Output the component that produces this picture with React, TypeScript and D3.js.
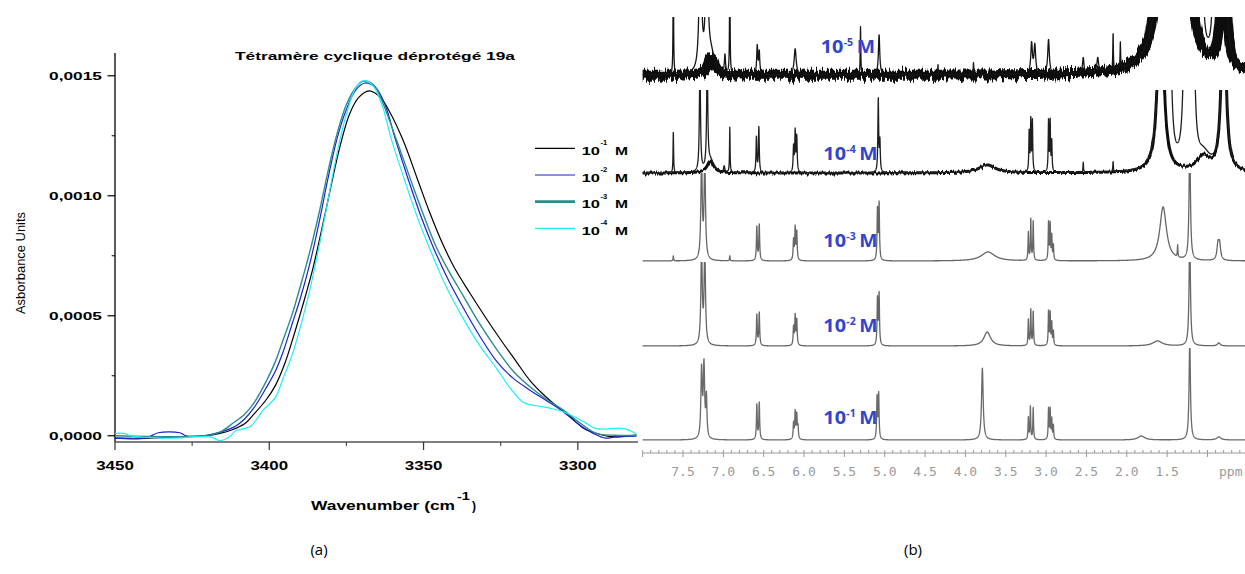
import React from "react";
import * as d3 from "d3";

// ---------------- Panel (a): IR absorbance data ----------------
const irTitle = "Tétramère cyclique déprotégé 19a";
const irXTicks = [3450, 3400, 3350, 3300];
const irXMinor = [3425, 3375, 3325];
const irYTicks = [0, 0.0005, 0.001, 0.0015];
const irYMinor = [0.00025, 0.00075, 0.00125];
const irExponents = ["-1", "-2", "-3", "-4"];

// [wavenumber cm-1, absorbance]
const ir1e1: [number, number][] = [
  [3450, -0.00001], [3440, -0.00001], [3430, -0.000005], [3421, 0], [3416, 0.00001], [3412, 0.000025],
  [3408, 0.00005], [3405, 0.00009], [3401, 0.00015], [3398, 0.00021], [3395, 0.0003], [3392, 0.00042],
  [3389, 0.00055], [3386, 0.00069], [3383, 0.00086], [3380, 0.00104], [3377, 0.00121], [3374, 0.00134],
  [3371, 0.00141], [3367.6, 0.001437], [3364, 0.00141], [3361, 0.00135], [3356.6, 0.00123], [3352, 0.00107],
  [3348, 0.00093], [3344, 0.000805], [3340, 0.0007], [3335, 0.000595], [3330, 0.000495], [3325, 0.0004],
  [3320, 0.00031], [3315.5, 0.00023], [3311, 0.00017], [3307, 0.000125], [3302.5, 0.00008], [3298, 0.00003],
  [3294, 0.00001], [3289, -0.000004], [3281, 0.000003],
];
const ir1e2: [number, number][] = [
  [3450, -0.00001], [3440, -0.00001], [3436, 0.0000125], [3429, 0.0000125], [3427, 0], [3421, 0],
  [3416, 0.000015], [3411, 0.00004], [3408, 0.00007], [3405, 0.000116], [3401, 0.0002], [3398, 0.00027],
  [3395.5, 0.00035], [3392.5, 0.00047], [3390, 0.00057], [3387, 0.00071], [3384, 0.00088], [3381, 0.00107],
  [3378, 0.00124], [3375, 0.00136], [3372, 0.00144], [3369, 0.00147], [3365.5, 0.00145], [3362.5, 0.00138],
  [3359, 0.00123], [3355, 0.00107], [3351, 0.00092], [3347, 0.00079], [3342, 0.00065], [3337, 0.00053],
  [3332, 0.00042], [3326.3, 0.00031], [3321, 0.00024], [3315.5, 0.00019], [3310, 0.000145], [3304.7, 0.0001],
  [3300, 0.00005], [3295, 0.00001], [3291, -0.00001], [3288, -0.000005], [3281, -0.000002],
];
const ir1e3: [number, number][] = [
  [3450, 0], [3421, 0], [3416, 0.000015], [3411.7, 0.000053], [3408, 0.00009], [3405, 0.000136],
  [3400.8, 0.000232], [3398, 0.00031], [3395.5, 0.0004], [3392.5, 0.00051], [3390, 0.00062], [3387, 0.00076],
  [3384, 0.00092], [3381, 0.0011], [3378, 0.00126], [3375, 0.00138], [3372, 0.00145], [3369.5, 0.001478],
  [3366, 0.00146], [3363, 0.00138], [3358.7, 0.00123], [3354, 0.00106], [3350, 0.00092], [3346, 0.00079],
  [3342, 0.00069], [3337, 0.00058], [3332, 0.00047], [3326.3, 0.00036], [3321, 0.00027], [3315.5, 0.000204],
  [3310, 0.00015], [3304.7, 0.000107], [3300, 0.00006], [3294, 0.00001], [3288, 0.000002], [3281, 0.000002],
];
const ir1e4: [number, number][] = [
  [3450, 0.00001], [3447, 0.00001], [3445, 0], [3430, -0.00001], [3425, -0.000005], [3419, -0.000005],
  [3416, -0.00002], [3413, -0.000005], [3411, 0.00002], [3408, 0.00003], [3406, 0.00004], [3404, 0.00007],
  [3402, 0.000107], [3398, 0.00016], [3395.5, 0.00024], [3392.5, 0.00034], [3390, 0.00045], [3387, 0.0006],
  [3384, 0.00078], [3381, 0.00098], [3378, 0.00118], [3375, 0.00134], [3372, 0.00145], [3369.5, 0.00148],
  [3366.5, 0.00146], [3363.5, 0.00138], [3360.3, 0.00123], [3356, 0.00106], [3352, 0.00091], [3348, 0.00078],
  [3343, 0.00063], [3337, 0.000485], [3332, 0.00038], [3326.3, 0.00028], [3322, 0.0002], [3317.7, 0.00014],
  [3313.4, 0.000125], [3309, 0.000115], [3304.7, 0.0001], [3298, 0.000058], [3294, 0.00003], [3285, 0.00003],
  [3281, 0.000008],
];
const irSeries = [ir1e1, ir1e2, ir1e3, ir1e4];

// ---------------- Panel (b): 1H NMR data ----------------
const nmrTicks = [7.5, 7.0, 6.5, 6.0, 5.5, 5.0, 4.5, 4.0, 3.5, 3.0, 2.5, 2.0, 1.5];
const nmrExponents = ["-5", "-4", "-3", "-2", "-1"];
// [ppm, intensity, half-width ppm]
const nmr1e5: [number, number, number][] = [
  [7.62, 110, 0.004], [7.285, 160, 0.015], [7.205, 160, 0.015], [7.15, 18, 0.05], [6.98, 18, 0.008],
  [6.92, 110, 0.004], [6.58, 28, 0.008], [6.555, 22, 0.008], [6.11, 26, 0.015], [5.3, 48, 0.004],
  [5.07, 40, 0.01], [4.34, 10, 0.004], [3.9, 12, 0.004], [3.18, 30, 0.012], [3.14, 28, 0.012],
  [2.97, 34, 0.012], [2.54, 15, 0.01], [2.36, 14, 0.012], [2.17, 36, 0.004], [2.08, 26, 0.004],
  [1.5, 300, 0.08], [1.3, 600, 0.04], [1.08, 400, 0.012], [0.91, 400, 0.012], [0.8, 150, 0.035],
];
const nmr1e4: [number, number, number][] = [
  [7.62, 41, 0.004], [7.29, 110, 0.008], [7.2, 110, 0.008], [7.16, 12, 0.05], [6.99, 6, 0.008],
  [6.92, 45, 0.004], [6.59, 35, 0.006], [6.56, 45, 0.006], [6.13, 25, 0.006], [6.11, 40, 0.006],
  [6.09, 35, 0.006], [5.08, 73, 0.006], [5.06, 30, 0.006], [3.73, 8, 0.12], [3.21, 40, 0.005],
  [3.19, 51, 0.005], [3.17, 50, 0.005], [2.97, 51, 0.005], [2.95, 50, 0.005], [2.93, 30, 0.005],
  [2.54, 10, 0.004], [2.17, 10, 0.004], [1.58, 200, 0.04], [1.47, 200, 0.02], [1.27, 300, 0.02],
  [1.18, 200, 0.02], [1.05, 15, 0.1], [0.8, 200, 0.03],
];
const nmr1e3: [number, number, number][] = [
  [7.62, 5, 0.004], [7.27, 100, 0.01], [7.23, 100, 0.01], [6.92, 5, 0.004], [6.585, 34, 0.006],
  [6.555, 36, 0.006], [6.13, 20, 0.006], [6.11, 32, 0.006], [6.09, 28, 0.006], [5.09, 50, 0.006],
  [5.07, 56, 0.006], [3.72, 9, 0.1], [3.22, 28, 0.005], [3.19, 41, 0.005], [3.16, 39, 0.005],
  [2.97, 38, 0.005], [2.95, 36, 0.005], [2.93, 24, 0.005], [2.91, 15, 0.005], [1.55, 54, 0.05],
  [1.37, 12, 0.004], [1.22, 120, 0.01], [0.87, 15, 0.015], [0.85, 15, 0.015],
];
const nmr1e2: [number, number, number][] = [
  [7.27, 95, 0.01], [7.23, 95, 0.01], [6.585, 31, 0.006], [6.555, 33, 0.006], [6.13, 18, 0.006],
  [6.11, 29, 0.006], [6.09, 25, 0.006], [5.09, 46, 0.006], [5.07, 51, 0.006], [3.73, 14, 0.05],
  [3.22, 26, 0.005], [3.19, 36, 0.005], [3.16, 34, 0.005], [2.97, 34, 0.005], [2.95, 32, 0.005],
  [2.93, 22, 0.005], [2.91, 14, 0.005], [1.62, 5, 0.07], [1.22, 110, 0.01], [0.86, 3, 0.02],
];
const nmr1e1: [number, number, number][] = [
  [7.27, 68, 0.01], [7.24, 72, 0.01], [7.21, 40, 0.008], [6.585, 35, 0.006], [6.555, 37, 0.006],
  [6.13, 16, 0.006], [6.11, 27, 0.006], [6.09, 24, 0.006], [6.075, 12, 0.006], [5.095, 42, 0.006],
  [5.075, 45, 0.006], [3.79, 72, 0.012], [3.22, 22, 0.005], [3.195, 33, 0.005], [3.16, 32, 0.005],
  [2.97, 31, 0.005], [2.95, 30, 0.005], [2.93, 20, 0.005], [2.91, 14, 0.005], [1.82, 4, 0.05],
  [1.22, 100, 0.01], [0.86, 3, 0.03],
];
const nmrSpectra = [nmr1e5, nmr1e4, nmr1e3, nmr1e2, nmr1e1];

// ---------------- Layout / style ----------------
const W = 1245;
const H = 574;
const boldFont = "'Liberation Sans', Arial, sans-serif";
const irColors = ["#000000", "#1f1fd0", "#2b8c8c", "#1ff0f5"];
const irStroke = [1.2, 1.2, 1.4, 1.2];
const irLegendStroke = [1.2, 1.2, 2.8, 1.3];
const nmrBase = [75, 173, 261, 346, 440];
const nmrClipTop = [17, 90, 173, 262, 348];
const nmrStroke = ["#151515", "#1e1e1e", "#666", "#666", "#6a6a6a"];
const nmrBand = [10, 3, 0, 0, 0];
const nmrNoise = [14, 5, 0, 0, 0];
const nmrLabelX = [820.7, 823.3, 823.3, 823.3, 823.3];
const nmrLabelY = [53.3, 160, 246.7, 332, 424];

export default function App() {
  const x = d3.scaleLinear().domain([3450, 3280.5]).range([115, 638]);
  const y = d3.scaleLinear().domain([-0.000026, 0.001595]).range([442, 53]);
  const line = d3
    .line<[number, number]>()
    .x((d) => x(d[0]))
    .y((d) => y(d[1]))
    .curve(d3.curveCatmullRom.alpha(0.5));
  const fmt = (v: number) => d3.format(".4f")(v).replace(".", ",");

  const px = d3.scaleLinear().domain([7.5, 1.0]).range([683, 1207.5]);
  const grid = d3.range(8.0, 0.5, -0.0015);
  const lor = (p: number, pk: [number, number, number]) => pk[1] / (1 + ((p - pk[0]) / pk[2]) ** 2);
  const nmrPaths = nmrSpectra.map((peaks, i) => {
    const yy = d3.scaleLinear().domain([0, 100]).range([nmrBase[i], nmrBase[i] - 100]);
    const ln = d3
      .line<[number, number]>()
      .x((d) => px(d[0]))
      .y((d) => yy(d[1]));
    const full = grid.map((p) => [p, d3.sum(peaks, (pk) => lor(p, pk))] as [number, number]);
    const broad = grid.map(
      (p) => [p, d3.sum(peaks.filter((pk) => pk[2] >= 0.03), (pk) => lor(p, pk))] as [number, number]
    );
    return { full: ln(full) || "", broad: ln(broad) || "" };
  });
  const nmrAllTicks = d3.range(80, 4, -1).map((v) => v / 10);

  return (
    <svg width={W} height={H} style={{ position: "absolute", left: 0, top: 0, background: "#fff" }}>
      <rect x={0} y={0} width={W} height={H} fill="#fff" />
      <defs>
        {nmrBase.map((b, i) => (
          <clipPath id={`nmrclip${i}`} key={i}>
            <rect x={640} y={nmrClipTop[i]} width={W - 640} height={b + 25 - nmrClipTop[i]} />
          </clipPath>
        ))}
        {nmrNoise.map((s, i) =>
          s > 0 ? (
            <filter id={`noise${i}`} key={i} x="-2%" y="-100%" width="104%" height="300%">
              <feTurbulence type="fractalNoise" baseFrequency="0.55 0.03" numOctaves={2} seed={i + 4} result="t" />
              <feColorMatrix in="t" type="matrix" values="0 0 0 0 0.5  0 1 0 0 0  0 0 0 0 0  0 0 0 0 1" result="m" />
              <feDisplacementMap in="SourceGraphic" in2="m" scale={s} xChannelSelector="R" yChannelSelector="G" />
            </filter>
          ) : null
        )}
      </defs>

      {/* ---------- Panel (a) ---------- */}
      <text x={235} y={60} fontFamily={boldFont} fontWeight="bold" fontSize={11} textLength={280} lengthAdjust="spacingAndGlyphs">
        {irTitle}
      </text>
      <line x1={115} x2={115} y1={53} y2={442} stroke="#000" strokeWidth={1.3} />
      {irYTicks.map((t) => (
        <g key={t}>
          <line x1={107.5} x2={115} y1={y(t)} y2={y(t)} stroke="#000" strokeWidth={1.2} />
          <text x={102} y={y(t) + 4.3} textAnchor="end" fontFamily={boldFont} fontWeight="bold" fontSize={11.5} textLength={53} lengthAdjust="spacingAndGlyphs">
            {fmt(t)}
          </text>
        </g>
      ))}
      {irYMinor.map((t) => (
        <line key={t} x1={111.7} x2={115} y1={y(t)} y2={y(t)} stroke="#000" strokeWidth={1} />
      ))}
      <line x1={115} x2={638} y1={442} y2={442} stroke="#555" strokeWidth={1.3} />
      {irXTicks.map((t) => (
        <g key={t}>
          <line x1={x(t)} x2={x(t)} y1={442} y2={450} stroke="#333" strokeWidth={1.2} />
          <text x={x(t)} y={470} textAnchor="middle" fontFamily={boldFont} fontWeight="bold" fontSize={12.5} textLength={37.6} lengthAdjust="spacingAndGlyphs">
            {t}
          </text>
        </g>
      ))}
      {irXMinor.map((t) => (
        <line key={t} x1={x(t)} x2={x(t)} y1={442} y2={446} stroke="#333" strokeWidth={1} />
      ))}
      <text transform="translate(25,263) rotate(-90)" textAnchor="middle" fontFamily="'Liberation Sans Narrow', 'Liberation Sans', Arial, sans-serif" fontSize={13} textLength={102} lengthAdjust="spacingAndGlyphs">
        Asborbance Units
      </text>
      <text x={311} y={510} fontFamily={boldFont} fontWeight="bold" fontSize={12} textLength={144} lengthAdjust="spacingAndGlyphs">
        Wavenumber (cm
      </text>
      <text x={457} y={500} fontFamily={boldFont} fontWeight="bold" fontSize={10} textLength={13} lengthAdjust="spacingAndGlyphs">
        -1
      </text>
      <text x={472} y={510} fontFamily={boldFont} fontWeight="bold" fontSize={12}>
        )
      </text>
      {irSeries.map((s, i) => (
        <path key={i} d={line(s) || ""} fill="none" stroke={irColors[i]} strokeWidth={irStroke[i]} strokeLinejoin="round" />
      ))}
      {irExponents.map((e, i) => {
        const ly = 148.3 + i * 26.7;
        return (
          <g key={e}>
            <line x1={535} x2={575} y1={ly} y2={ly} stroke={irColors[i]} strokeWidth={irLegendStroke[i]} />
            <text x={581.7} y={ly + 6.7} fontFamily={boldFont} fontWeight="bold" fontSize={11.5} textLength={18.3} lengthAdjust="spacingAndGlyphs">
              10
            </text>
            <text x={600.5} y={ly - 3} fontFamily={boldFont} fontWeight="bold" fontSize={7.5}>
              {e}
            </text>
            <text x={615} y={ly + 6.7} fontFamily={boldFont} fontWeight="bold" fontSize={11.5} textLength={13} lengthAdjust="spacingAndGlyphs">
              M
            </text>
          </g>
        );
      })}

      {/* ---------- Panel (b) ---------- */}
      {nmrPaths.map((p, i) => (
        <g key={i} clipPath={`url(#nmrclip${i})`}>
          {nmrBand[i] > 0 && (
            <g filter={`url(#noise${i})`}>
              <path d={p.broad} fill="none" stroke="#111" strokeWidth={nmrBand[i]} strokeLinejoin="round" />
            </g>
          )}
          <path d={p.full} fill="none" stroke={nmrStroke[i]} strokeWidth={1.3} strokeLinejoin="round" />
        </g>
      ))}
      {nmrExponents.map((e, i) => (
        <g key={e} fill="#3344cc" fontFamily="'Open Sans', 'Liberation Sans', sans-serif" fontWeight="bold">
          <text x={nmrLabelX[i]} y={nmrLabelY[i]} fontSize={17} textLength={22.7} lengthAdjust="spacingAndGlyphs">
            10
          </text>
          <text x={nmrLabelX[i] + 23} y={nmrLabelY[i] - 7} fontSize={10.5}>
            {e}
          </text>
          <text x={nmrLabelX[i] + 36} y={nmrLabelY[i]} fontSize={17} textLength={18.3} lengthAdjust="spacingAndGlyphs">
            M
          </text>
        </g>
      ))}
      <line x1={px(8.0)} x2={W} y1={453} y2={453} stroke="#9a9a9a" strokeWidth={1} />
      {nmrAllTicks.map((t) => {
        const major = Math.abs(t * 2 - Math.round(t * 2)) < 1e-6;
        return (
          <line key={t} x1={px(t)} x2={px(t)} y1={450} y2={major ? 457 : 453} stroke="#9a9a9a" strokeWidth={1} />
        );
      })}
      {nmrTicks.map((t) => (
        <text key={t} x={px(t)} y={476} textAnchor="middle" fill="#9a9a9a" fontFamily="'DejaVu Sans Mono', monospace" fontSize={13}>
          {t.toFixed(1)}
        </text>
      ))}
      <text x={1219} y={476} fill="#9a9a9a" fontFamily="'DejaVu Sans Mono', monospace" fontSize={13}>
        ppm
      </text>

      <text x={319} y={555} textAnchor="middle" fontFamily="'Open Sans', sans-serif" fontSize={15}>
        (a)
      </text>
      <text x={913} y={555} textAnchor="middle" fontFamily="'Open Sans', sans-serif" fontSize={15}>
        (b)
      </text>
    </svg>
  );
}
